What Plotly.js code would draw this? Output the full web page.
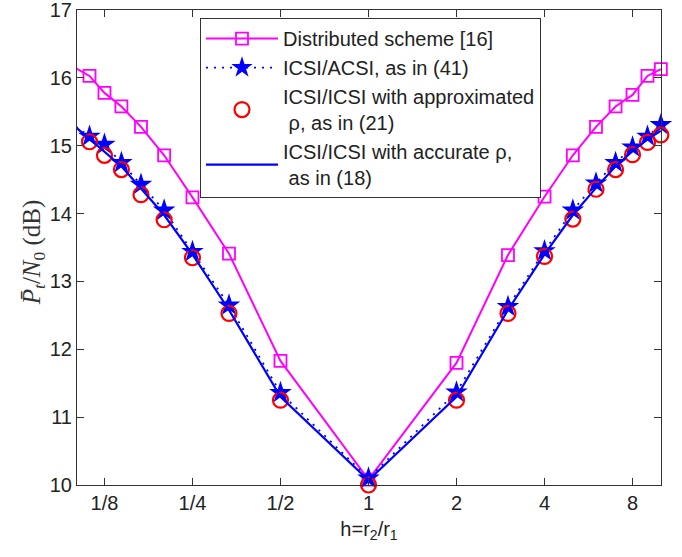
<!DOCTYPE html>
<html>
<head>
<meta charset="utf-8">
<script src="https://cdn.plot.ly/plotly-3.0.1.min.js"></script>
<style>html,body{margin:0;padding:0;background:#fff}#chart{width:682px;height:557px}</style>
</head>
<body>
<div id="chart"></div>
<script>
// ---- data ----
const h = [1/10, 1/9, 1/8, 1/7, 1/6, 1/5, 1/4, 1/3, 1/2, 1, 2, 3, 4, 5, 6, 7, 8, 9, 10];
const distributed = [16.14, 16.03, 15.78, 15.58, 15.28, 14.86, 14.24, 13.41, 11.83, 10.08, 11.80, 13.39, 14.25, 14.86, 15.28, 15.58, 15.75, 16.03, 16.13];
const icsiAcsi = [15.28, 15.14, 15.02, 14.75, 14.43, 14.05, 13.44, 12.65, 11.36, 10.10, 11.37, 12.63, 13.45, 14.05, 14.45, 14.75, 14.98, 15.14, 15.31];
const icsiApprox = [15.20, 15.06, 14.86, 14.65, 14.28, 13.91, 13.35, 12.53, 11.25, 10.00, 11.25, 12.53, 13.37, 13.92, 14.36, 14.65, 14.87, 15.05, 15.16];
const icsiAccurate = [15.27, 15.10, 14.92, 14.70, 14.37, 13.98, 13.40, 12.58, 11.30, 10.07, 11.30, 12.58, 13.40, 13.98, 14.38, 14.70, 14.92, 15.10, 15.22];
const xTickVals = [1/8, 1/4, 1/2, 1, 2, 4, 8];
const xTickText = ['1/8', '1/4', '1/2', '1', '2', '4', '8'];
const yTickVals = [10, 11, 12, 13, 14, 15, 16, 17];
const names = ['Distributed scheme [16]', 'ICSI/ACSI, as in (41)', 'ICSI/ICSI with approximated<br> ρ, as in (21)', 'ICSI/ICSI with accurate ρ,<br> as in (18)'];
const yTitle = '<i>P̄</i><sub><i>t</i></sub>/<i>N</i><sub>0</sub> (dB)';

const traces = [
  {x: h, y: distributed, name: names[0], mode: 'lines+markers', cliponaxis: false,
   line: {color: '#ff00ff', width: 2},
   marker: {symbol: 'square-open', size: 12, color: '#ff00ff', line: {width: 1.8, color: '#ff00ff'}}},
  {x: h, y: icsiAcsi, name: names[1], mode: 'lines+markers', cliponaxis: false,
   line: {color: '#0000ff', width: 1.8, dash: '2px,6px'},
   marker: {symbol: 'star', size: 17, color: '#0000ff', line: {width: 0}}},
  {x: h, y: icsiApprox, name: names[2], mode: 'markers', cliponaxis: false,
   marker: {symbol: 'circle-open', size: 15, color: '#ff0000', line: {width: 2.2, color: '#ff0000'}}},
  {x: h, y: icsiAccurate, name: names[3], mode: 'lines', cliponaxis: false,
   line: {color: '#0000ff', width: 2.2}}
];

const axisFont = {family: 'Liberation Sans, Arial, sans-serif', size: 20, color: '#222'};
const layout = {
  width: 682, height: 557,
  margin: {l: 77, r: 21, t: 10, b: 72},
  paper_bgcolor: '#fff', plot_bgcolor: '#fff',
  showlegend: true,
  font: axisFont,
  xaxis: {
    type: 'log', range: [-0.997, 1.0005], tickvals: xTickVals, ticktext: xTickText,
    ticks: 'inside', ticklen: 7, tickcolor: '#333', showline: true, linecolor: '#333', linewidth: 1,
    mirror: 'ticks', showgrid: false, zeroline: false, tickfont: axisFont, ticklabeloverflow: 'allow',
    title: {text: 'h=r<sub>2</sub>/r<sub>1</sub>', font: axisFont, standoff: 8}
  },
  yaxis: {
    range: [10, 17.002], tickvals: yTickVals, ticks: 'inside', ticklen: 7, tickcolor: '#333',
    showline: true, linecolor: '#333', linewidth: 1, mirror: 'ticks', showgrid: false, zeroline: false,
    tickfont: axisFont, ticklabeloverflow: 'allow'
  },
  annotations: [{
    text: yTitle, xref: 'paper', yref: 'paper', x: -0.0753, y: 0.49, xanchor: 'center', yanchor: 'middle',
    textangle: -90, showarrow: false,
    font: {family: 'Liberation Serif, DejaVu Serif, serif', size: 25, color: '#333'}
  }],
  legend: {
    x: 0.2106, y: 0.983, xanchor: 'left', yanchor: 'top',
    bgcolor: '#fff', bordercolor: '#333', borderwidth: 1,
    font: {family: 'Liberation Sans, Arial, sans-serif', size: 20, color: '#222'},
    itemwidth: 72, tracegroupgap: 0
  }
};
Plotly.newPlot('chart', traces, layout, {displayModeBar: false, staticPlot: true});
</script>
</body>
</html>
